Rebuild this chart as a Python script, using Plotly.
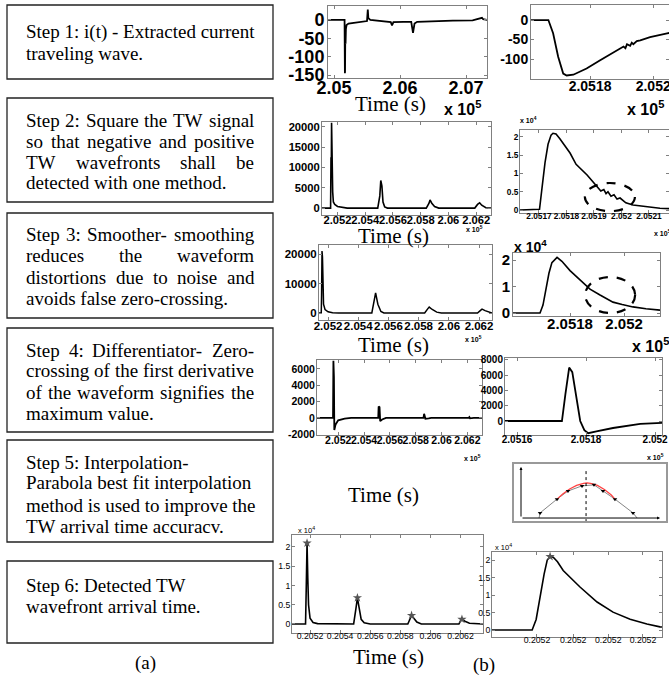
import plotly.graph_objects as go

W, H = 669, 675

# ---------------- text of the steps (a) ----------------
box1_lines = ["Step 1: i(t) - Extracted current", "traveling wave."]
box2_lines = ["Step 2: Square the TW signal", "so that negative and positive",
              "TW wavefronts shall be", "detected with one method."]
box3_lines = ["Step 3: Smoother- smoothing", "reduces the waveform",
              "distortions due to noise and", "avoids false zero-crossing."]
box4_lines = ["Step 4: Differentiator- Zero-", "crossing of the first derivative",
              "of the waveform signifies the", "maximum value."]
box5_lines = ["Step 5: Interpolation-", "Parabola best fit interpolation",
              "method is used to improve the", "TW arrival time accuracv."]
box6_lines = ["Step 6: Detected TW", "wavefront arrival time."]

# ---------------- data (b) ----------------
# Step 1: extracted current TW (x in units of 1e5)
p1_t = [2.0491, 2.0516, 2.05165, 2.05167, 2.0517, 2.05172, 2.05175, 2.0518, 2.0519, 2.0522,
        2.0530, 2.0545, 2.0550, 2.05512, 2.05515, 2.0552, 2.0555, 2.0570, 2.0586, 2.05879,
        2.0590, 2.0605, 2.0617, 2.06197, 2.0622, 2.0626, 2.0650, 2.0680, 2.0710, 2.07242,
        2.0726, 2.0732]
p1_i = [0, 0, -145, -140, -60, -30, -65, -25, -14, -10,
        -8, -5, -3, 28, 12, 5, 0, -3, -6, -15,
        -6, -5, -5, -35, -10, -5, -3, -2, -1, 6,
        2, 0]
p1_xticks = [2.05, 2.06, 2.07]
p1_xlabels = ["2.05", "2.06", "2.07"]
p1_yticks = [0, -50, -100, -150]
p1_ylabels = ["0", "-50", "-100", "-150"]

# Step 1 zoom
p2_t = [2.05161, 2.051668, 2.051683, 2.051699, 2.051715, 2.051726, 2.051747, 2.051789, 2.051832,
        2.051874, 2.051895, 2.051906, 2.051912, 2.051917, 2.051927, 2.051932, 2.051937, 2.051948,
        2.051959, 2.05199, 2.052044, 2.05206]
p2_i = [0, 0, -34, -94, -137, -142, -140, -124, -103,
        -84, -73, -68, -72, -62, -66, -58, -62, -54,
        -52, -44, -34, -32]
p2_xticks = [2.0518, 2.052]
p2_xlabels = ["2.0518", "2.052"]
p2_yticks = [0, -50, -100]
p2_ylabels = ["0", "-50", "-100"]

# Step 2: squared signal
p3_t = [2.05088, 2.0515, 2.05153, 2.05155, 2.05157, 2.0516, 2.05165, 2.0517, 2.0518, 2.052,
        2.0523, 2.0527, 2.0549, 2.05505, 2.05512, 2.0552, 2.05528, 2.0554, 2.0556, 2.0584,
        2.0586, 2.05867, 2.0588, 2.0590, 2.0593, 2.0619, 2.0621, 2.06225, 2.0624, 2.0627, 2.0631]
p3_sq = [0, 0, 12500, 9000, 21000, 12000, 4000, 1500, 900, 400,
         150, 0, 0, 3000, 6800, 5500, 1500, 300, 0, 0,
         1200, 2000, 1200, 400, 0, 0, 900, 1300, 700, 100, 0]
mid_xticks = [2.052, 2.054, 2.056, 2.058, 2.06, 2.062]
mid_xlabels = ["2.052", "2.054", "2.056", "2.058", "2.06", "2.062"]
p3_yticks = [0, 5000, 10000, 15000, 20000]
p3_ylabels = ["0", "5000", "10000", "15000", "20000"]

# Step 2 zoom (x 1e4)
p4_t = [2.051631, 2.051693, 2.051702, 2.051711, 2.051722, 2.051733, 2.051744, 2.051751, 2.051762,
        2.051776, 2.051798, 2.051813, 2.051835, 2.051875, 2.051893, 2.051915, 2.051925, 2.051936,
        2.051944, 2.051951, 2.051962, 2.051973, 2.051984, 2.051995, 2.052016, 2.052042, 2.052104,
        2.05214, 2.052173]
p4_sq = [0, 0, 0.02, 0.6, 1.3, 1.8, 2.05, 2.1, 2.08,
         1.95, 1.72, 1.56, 1.25, 0.96, 0.8, 0.62, 0.52, 0.56,
         0.45, 0.5, 0.38, 0.42, 0.3, 0.33, 0.2, 0.14, 0.08,
         0.05, 0.04]
p4_xticks = [2.0517, 2.0518, 2.0519, 2.052, 2.0521]
p4_xlabels = ["2.0517", "2.0518", "2.0519", "2.052", "2.0521"]
p4_yticks = [0, 0.5, 1, 1.5, 2]
p4_ylabels = ["0", "0.5", "1", "1.5", "2"]

# Step 3: smoothed
p5_t = [2.0514, 2.05155, 2.05157, 2.0516, 2.05163, 2.05168, 2.0517, 2.0518, 2.052, 2.0523,
        2.0527, 2.0549, 2.0550, 2.05515, 2.0553, 2.0555, 2.0557, 2.0584, 2.0586, 2.0587,
        2.0589, 2.0592, 2.0595, 2.0619, 2.0621, 2.0622, 2.0624, 2.0627, 2.06286]
p5_sm = [0, 0, 6000, 21000, 19000, 8000, 3000, 1200, 400, 100,
         0, 0, 3000, 6800, 3000, 500, 0, 0, 1400, 2000,
         1200, 300, 0, 0, 900, 1300, 800, 200, 0]
p5_yticks = [0, 10000, 20000]
p5_ylabels = ["0", "10000", "20000"]

# Step 3 zoom (x 1e4)
p6_t = [2.051589, 2.051689, 2.0517, 2.051711, 2.051722, 2.051733, 2.051752, 2.05177,
        2.0518, 2.051837, 2.051874, 2.051911, 2.051959, 2.051993, 2.052033, 2.052081, 2.052133]
p6_sm = [0, 0, 0.3, 0.9, 1.5, 1.9, 2.1, 1.95,
         1.6, 1.25, 0.9, 0.68, 0.41, 0.32, 0.23, 0.16, 0.11]
p6_xticks = [2.0518, 2.052]
p6_xlabels = ["2.0518", "2.052"]
p6_yticks = [0, 1, 2]
p6_ylabels = ["0", "1", "2"]

# Step 4: derivative
p7_t = [2.05036, 2.0516, 2.05163, 2.05167, 2.0517, 2.0518, 2.052, 2.0525, 2.053, 2.0551,
        2.05513, 2.0552, 2.05525, 2.0554, 2.0557, 2.0586, 2.05865, 2.0587, 2.05875, 2.059,
        2.0592, 2.0621, 2.06215, 2.0622, 2.0625, 2.06313]
p7_d = [0, 0, 7000, 5000, -1500, -800, -300, -100, 0, 0,
        1400, 1300, -400, -200, 0, 0, 500, 200, -100, -50,
        0, 0, 100, -50, 0, 0]
p7_yticks = [-2000, 0, 2000, 4000, 6000]
p7_ylabels = ["-2000", "0", "2000", "4000", "6000"]

# Step 4 zoom
p8_t = [2.051565, 2.05173, 2.05174, 2.051751, 2.05176, 2.05177, 2.051783, 2.051795, 2.051806,
        2.05183, 2.051878, 2.051957, 2.052014, 2.05202]
p8_d = [0, 0, 3500, 7000, 6400, 3500, 0, -1200, -1600,
        -1350, -920, -390, -260, -250]
p8_xticks = [2.0516, 2.0518, 2.052]
p8_xlabels = ["2.0516", "2.0518", "2.052"]
p8_yticks = [0, 2000, 4000, 6000, 8000]
p8_ylabels = ["0", "2000", "4000", "6000", "8000"]

# Step 5: parabola interpolation schematic
p11_x = [0.13, 0.137, 0.259, 0.338, 0.439, 0.525, 0.590, 0.676, 0.806, 0.835]
p11_y = [0, 0.10, 0.37, 0.53, 0.63, 0.65, 0.53, 0.37, 0.10, 0]
p11_fit_x = [0.259, 0.30, 0.35, 0.40, 0.45, 0.475, 0.50, 0.55, 0.60, 0.65, 0.676]
p11_fit_y = [0.37, 0.47, 0.57, 0.64, 0.68, 0.69, 0.68, 0.64, 0.56, 0.45, 0.37]
p11_tarrival = 0.468

# Step 6: detected arrival time (seconds, x 1e4)
p9_t = [0.20508, 0.20517, 0.205175, 0.20518, 0.205185, 0.20519, 0.2052, 0.20522, 0.20525,
        0.2054, 0.20549, 0.205505, 0.205515, 0.205525, 0.20554, 0.20556, 0.2056, 0.20585,
        0.205865, 0.205875, 0.20589, 0.20591, 0.20594, 0.20619, 0.2062, 0.20621, 0.20623,
        0.20626, 0.20635]
p9_v = [0, 0, 1.0, 2.1, 1.2, 0.5, 0.15, 0.04, 0.01,
        0, 0, 0.4, 0.68, 0.45, 0.12, 0.03, 0, 0,
        0.15, 0.22, 0.15, 0.05, 0, 0, 0.08, 0.12, 0.07,
        0.02, 0]
p9_peak_t = [0.20518, 0.205515, 0.205875, 0.20621]
p9_peak_v = [2.1, 0.68, 0.22, 0.12]
p9_xticks = [0.2052, 0.2054, 0.2056, 0.2058, 0.206, 0.2062]
p9_xlabels = ["0.2052", "0.2054", "0.2056", "0.2058", "0.206", "0.2062"]
p9_yticks = [0, 0.5, 1, 1.5, 2]
p9_ylabels = ["0", "0.5", "1", "1.5", "2"]

p10_t = [0.205155, 0.2051691, 0.2051705, 0.2051719, 0.2051733, 0.2051744, 0.2051754, 0.2051765,
         0.205178, 0.20518, 0.2051859, 0.2051919, 0.2051975, 0.2052035, 0.2052094, 0.205214, 0.2052147]
p10_v = [0, 0, 0.3, 1.0, 1.6, 2.0, 2.1, 2.08,
         1.95, 1.7, 1.23, 0.8, 0.51, 0.31, 0.17, 0.09, 0.085]
p10_peak_t = [0.2051754]
p10_peak_v = [2.1]
p10_xticks = [0.2051708, 0.2051835, 0.2051958, 0.2052080]
p10_xlabels = ["0.2052", "0.2052", "0.2052", "0.2052"]
p10_yticks = [0, 0.5, 1, 1.5, 2]
p10_ylabels = ["0", "0.5", "1", "1.5", "2"]

# ---------------- figure ----------------
fig = go.Figure()
layout = dict(template="none", width=W, height=H,
              margin=dict(l=0, r=0, t=0, b=0, pad=0, autoexpand=False),
              paper_bgcolor="white", plot_bgcolor="white", showlegend=False)
annotations = []
shapes = []

AX = "#808080"


def names(n):
    s = "" if n == 1 else str(n)
    return "xaxis" + s, "yaxis" + s, "x" + s, "y" + s


def panel(n, box, xr, yr, xtv, xtt, ytv, ytt, fs, weight="bold", visible=True, xstand=-5, ystand=-1):
    xa, ya, xref, yref = names(n)
    x0, y0, x1, y1 = box
    common = dict(showline=visible, linecolor=AX, linewidth=1, mirror="ticks" if visible else False,
                  ticks="inside" if visible else "", ticklen=3, tickcolor=AX,
                  showgrid=False, zeroline=False, showticklabels=visible, automargin=False,
                  tickangle=0, ticklabeloverflow="allow",
                  tickfont=dict(family="Liberation Sans", size=fs, color="black", weight=weight),
                  tickmode="array", fixedrange=True)
    layout[xa] = dict(domain=[x0 / W, min(x1 / W, 1.0)], range=xr, anchor=yref,
                      tickvals=xtv, ticktext=xtt, ticklabelstandoff=xstand, **common)
    layout[ya] = dict(domain=[1 - y1 / H, 1 - y0 / H], range=yr, anchor=xref,
                      tickvals=ytv, ticktext=ytt, ticklabelstandoff=ystand, **common)
    return xref, yref


def line(n, x, y, width=1.6, color="black"):
    _, _, xref, yref = names(n)
    fig.add_trace(go.Scatter(x=x, y=y, mode="lines", line=dict(color=color, width=width),
                             xaxis=xref, yaxis=yref, hoverinfo="skip"))


def txt(x, y, s, size, family="Liberation Serif", xanchor="left", weight="normal", color="black"):
    annotations.append(dict(x=x / W, y=1 - y / H, xref="paper", yref="paper", text=s,
                            showarrow=False, xanchor=xanchor, yanchor="middle", borderpad=0,
                            font=dict(family=family, size=size, color=color, weight=weight)))


# Times metrics (Liberation Serif is metric compatible) for justified text
TW = {" ": 250, "!": 333, "(": 333, ")": 333, ",": 250, "-": 333, ".": 250, ":": 278,
      "A": 722, "B": 667, "C": 667, "D": 722, "E": 611, "F": 556, "G": 722, "H": 722, "I": 333,
      "J": 389, "K": 722, "L": 611, "M": 889, "N": 722, "O": 722, "P": 556, "Q": 722, "R": 667,
      "S": 556, "T": 611, "U": 722, "V": 722, "W": 944, "X": 722, "Y": 722, "Z": 611,
      "a": 444, "b": 500, "c": 444, "d": 500, "e": 444, "f": 333, "g": 500, "h": 500, "i": 278,
      "j": 278, "k": 500, "l": 278, "m": 778, "n": 500, "o": 500, "p": 500, "q": 500, "r": 333,
      "s": 389, "t": 278, "u": 500, "v": 500, "w": 722, "x": 500, "y": 500, "z": 444}
FS = 19


def width(s):
    return sum(TW.get(c, 500) for c in s) / 1000 * FS


def text_line(s, y, justify, x0=25, x1=253):
    if not justify:
        txt(x0, y, s, FS)
        return
    words = s.split(" ")
    ws = [width(w) for w in words]
    gap = (x1 - x0 - sum(ws)) / (len(words) - 1)
    x = x0
    for w, wd in zip(words, ws):
        txt(x, y, w, FS)
        x += wd + gap


def text_box(box, lines, ys, njust):
    x0, y0, x1, y1 = box
    shapes.append(dict(type="rect", xref="paper", yref="paper", x0=x0 / W, x1=x1 / W,
                       y0=1 - y1 / H, y1=1 - y0 / H, line=dict(color="#222", width=1.3)))
    for i, (s, y) in enumerate(zip(lines, ys)):
        text_line(s, y, i < njust)


text_box((7, 5, 273, 79), box1_lines, [32, 53], 0)
text_box((7, 98, 273, 202), box2_lines, [120, 141, 162, 183], 3)
text_box((7, 213, 273, 318), box3_lines, [235, 256, 277, 298], 3)
text_box((7, 328, 273, 432), box4_lines, [350, 371, 392, 413], 3)
text_box((7, 440, 273, 542), box5_lines, [462, 483, 505, 526], 0)
text_box((7, 561, 273, 643), box6_lines, [585, 606], 0)
txt(145, 663, "(a)", FS, xanchor="center")
txt(484, 665, "(b)", FS, xanchor="center")

# ---- panels ----
panel(1, (328, 6, 487, 78), [2.04909, 2.07318], [-158, 38], p1_xticks, p1_xlabels, p1_yticks, p1_ylabels, 18, xstand=-7)
line(1, p1_t, p1_i, 1.8)
panel(2, (531, 5, 669, 79), [2.051613, 2.05205], [-151, 38.5], p2_xticks, p2_xlabels, p2_yticks, p2_ylabels, 14, xstand=-6)
line(2, p2_t, p2_i, 1.8)

panel(3, (322, 122, 491, 215), [2.05088, 2.06307], [-1700, 21200], mid_xticks, mid_xlabels, p3_yticks, p3_ylabels, 11.2)
line(3, p3_t, p3_sq, 1.6)
panel(4, (520, 130, 669, 213), [2.051631, 2.052173], [-0.08, 2.19], p4_xticks, p4_xlabels, p4_yticks, p4_ylabels, 8.3)
line(4, p4_t, p4_sq, 1.6)

panel(5, (319, 245, 492, 320), [2.0514, 2.06286], [-2370, 23050], mid_xticks, mid_xlabels, p5_yticks, p5_ylabels, 11.5)
line(5, p5_t, p5_sm, 1.5)
panel(6, (513, 253, 660, 316), [2.051589, 2.052133], [-0.113, 2.264], p6_xticks, p6_xlabels, p6_yticks, p6_ylabels, 15, xstand=-6)
line(6, p6_t, p6_sm, 1.6)

panel(7, (317, 360, 482, 435), [2.05036, 2.06313], [-2100, 7100], mid_xticks, mid_xlabels, p7_yticks, p7_ylabels, 10.5)
line(7, p7_t, p7_d, 1.8)
panel(8, (505, 358, 662, 435), [2.051565, 2.05202], [-1836, 8260], p8_xticks, p8_xlabels, p8_yticks, p8_ylabels, 10)
line(8, p8_t, p8_d, 1.8)

panel(9, (292, 535, 483, 633), [0.20508, 0.20635], [-0.234, 2.31], p9_xticks, p9_xlabels, p9_yticks, p9_ylabels, 8.7, weight="normal")
line(9, p9_t, p9_v, 1.6)
fig.add_trace(go.Scatter(x=p9_peak_t, y=p9_peak_v, mode="markers", xaxis="x9", yaxis="y9",
                         marker=dict(symbol="star", size=7, color="#555"), hoverinfo="skip"))
panel(10, (492, 552, 662, 637), [0.205155, 0.2052147], [-0.2, 2.23], p10_xticks, p10_xlabels, p10_yticks, p10_ylabels, 8.7, weight="normal")
line(10, p10_t, p10_v, 1.6)
fig.add_trace(go.Scatter(x=p10_peak_t, y=p10_peak_v, mode="markers", xaxis="x10", yaxis="y10",
                         marker=dict(symbol="star", size=7, color="#555"), hoverinfo="skip"))

# schematic
panel(11, (521, 467, 660, 522), [0, 1], [-0.078, 1], [], [], [], [], 5, visible=False)
fig.add_trace(go.Scatter(x=p11_x, y=p11_y, mode="lines", line=dict(color="#666", width=0.8),
                         xaxis="x11", yaxis="y11", hoverinfo="skip"))
fig.add_trace(go.Scatter(x=p11_fit_x, y=p11_fit_y, mode="lines", line=dict(color="#ff4040", width=1.2),
                         xaxis="x11", yaxis="y11", hoverinfo="skip"))
fig.add_trace(go.Scatter(x=p11_x[1:-1], y=p11_y[1:-1], mode="markers",
                         marker=dict(symbol="triangle-down", size=4, color="black"),
                         xaxis="x11", yaxis="y11", hoverinfo="skip"))
shapes.append(dict(type="line", xref="x11", yref="y11", x0=p11_tarrival, x1=p11_tarrival,
                   y0=-0.08, y1=0.96, line=dict(color="black", width=1, dash="dot")))
for (ax_, ay_, x_, y_) in [(0, 0, 0, 1.0), (0, 0, 1.0, 0)]:
    annotations.append(dict(x=x_, y=y_, ax=ax_, ay=ay_, xref="x11", yref="y11", axref="x11", ayref="y11",
                            text="", showarrow=True, arrowhead=2, arrowsize=0.6, arrowwidth=1,
                            arrowcolor="black"))
annotations.append(dict(x=0.3, y=-0.08, xref="x11", yref="y11", text="Time", showarrow=False,
                        font=dict(size=5, color="#333", family="Liberation Sans")))
annotations.append(dict(x=0.52, y=-0.08, xref="x11", yref="y11", text="T<sub>arrival</sub>", showarrow=False,
                        font=dict(size=5, color="#333", family="Liberation Sans")))
shapes.append(dict(type="rect", xref="paper", yref="paper", x0=513 / W, x1=667 / W,
                   y0=1 - 522 / H, y1=1 - 463 / H, line=dict(color="#999", width=2)))

# ellipses
shapes.append(dict(type="circle", xref="x4", yref="y4", x0=2.051867, x1=2.052049, y0=-0.03, y1=0.74,
                   line=dict(color="black", width=2.2, dash="dash")))
shapes.append(dict(type="circle", xref="x6", yref="y6", x0=2.051856, x1=2.052041, y0=0.0, y1=1.36,
                   line=dict(color="black", width=2.2, dash="dash")))

# axis titles / exponents
SANS = "Liberation Sans"
for (x, y) in [(390, 104), (393, 236), (393, 345), (383, 495), (388, 657)]:
    txt(x, y, "Time (s)", 21, xanchor="center")
txt(462, 108, "x 10<sup>5</sup>", 16, family=SANS, xanchor="center", weight="bold")
txt(645, 108, "x 10<sup>5</sup>", 16, family=SANS, xanchor="center", weight="bold")
txt(474, 229, "x 10<sup>5</sup>", 7, family=SANS, xanchor="center", weight="bold")
txt(662, 233, "x 10<sup>5</sup>", 7, family=SANS, xanchor="center", weight="bold")
txt(528, 120, "x 10<sup>4</sup>", 7, family=SANS, xanchor="center", weight="bold")
txt(473, 339, "x 10<sup>5</sup>", 7, family=SANS, xanchor="center", weight="bold")
txt(530, 246, "x 10<sup>4</sup>", 14, family=SANS, xanchor="center", weight="bold")
txt(650, 345, "x 10<sup>5</sup>", 16, family=SANS, xanchor="center", weight="bold")
txt(472, 458, "x 10<sup>5</sup>", 7, family=SANS, xanchor="center", weight="bold")
txt(655, 457, "x 10<sup>5</sup>", 7, family=SANS, xanchor="center", weight="bold")
txt(306, 530, "x 10<sup>4</sup>", 7.5, family=SANS, xanchor="center")
txt(503, 547, "x 10<sup>4</sup>", 7.5, family=SANS, xanchor="center")

layout["annotations"] = annotations
layout["shapes"] = shapes
fig.update_layout(**layout)
fig.write_html("out.html")
